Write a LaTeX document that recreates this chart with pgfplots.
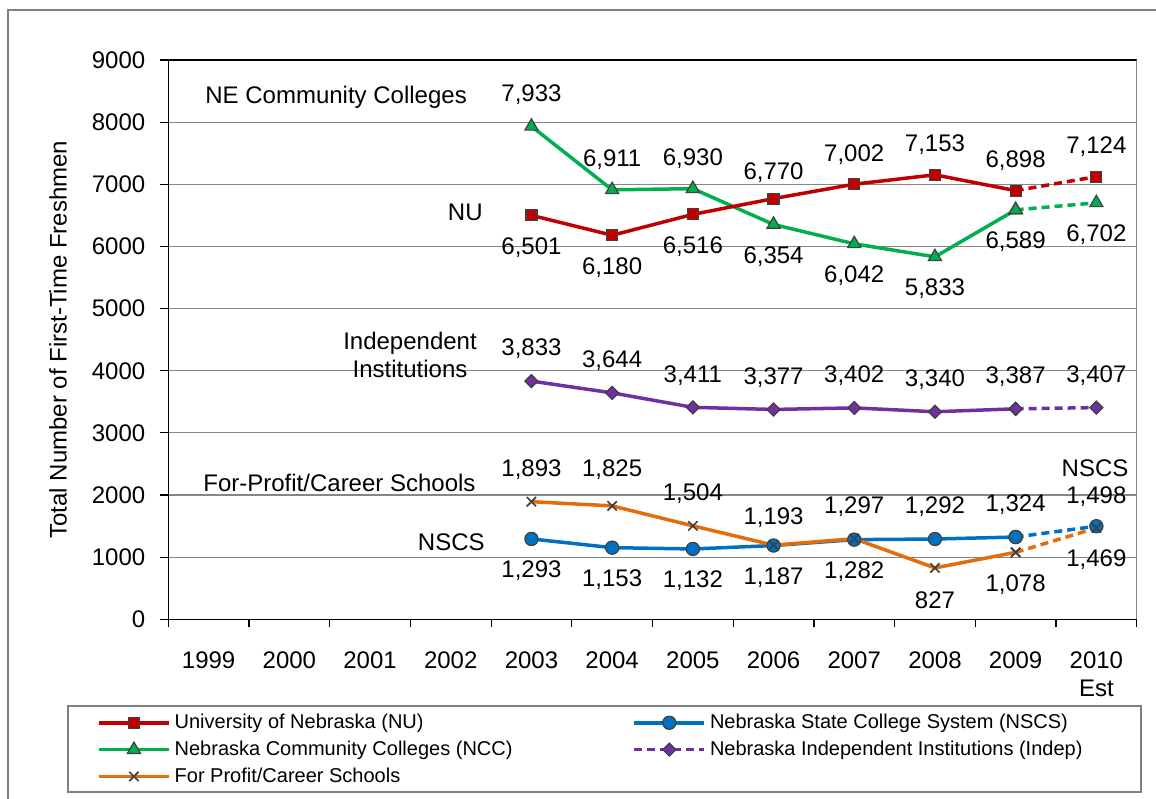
\documentclass[border=0pt]{standalone}
\usepackage{fontspec}
\setmainfont{Liberation Sans}
\usepackage{pgfplots}
\usepackage{pgfplotstable}
\pgfplotsset{compat=1.18}

\definecolor{nured}{RGB}{192,0,0}
\definecolor{nccgreen}{RGB}{0,176,80}
\definecolor{fporange}{RGB}{228,108,10}
\definecolor{nscsblue}{RGB}{0,112,192}
\definecolor{indpurple}{RGB}{112,48,160}
\definecolor{markedge}{RGB}{64,64,64}
\definecolor{gridgray}{RGB}{134,134,134}
\definecolor{framegray}{RGB}{128,128,128}

% x: 0 = 1999 ... 11 = 2010 (Est); dy = label offset in bp
\pgfplotstableread{
x y dy
4 6501 -16
5 6180 -16
6 6516 -16
7 6770 13
8 7002 15
9 7153 15
10 6898 15
11 7124 15
}\nu
\pgfplotstableread{
x y dy
4 7933 16
5 6911 15
6 6930 15
7 6354 -16
8 6042 -16
9 5833 -16
10 6589 -16
11 6702 -16
}\ncc
\pgfplotstableread{
x y dy
4 3833 16
5 3644 16
6 3411 16
7 3377 16
8 3402 16
9 3340 16
10 3387 16
11 3407 16
}\indep
\pgfplotstableread{
x y dy
4 1293 -16
5 1153 -16
6 1132 -16
7 1187 -16
8 1282 -16
9 1292 16
10 1324 16
11 1498 15
}\nscs
\pgfplotstableread{
x y dy
4 1893 16
5 1825 18
6 1504 16
7 1193 14
8 1297 16
9 827 -16
10 1078 -16
11 1469 -16
}\fp

\newcommand{\chartfont}{\fontsize{12bp}{14bp}\selectfont}
\newcommand{\legfont}{\fontsize{10bp}{12bp}\selectfont}

\pgfplotsset{
  nu/.style={nured, line width=1.75bp, mark=square*, mark size=2.75bp,
    mark options={solid, fill=nured, draw=markedge, line width=0.6bp}},
  ncc/.style={nccgreen, line width=1.75bp, mark=triangle*, mark size=3.8bp,
    mark options={solid, fill=nccgreen, draw=markedge, line width=0.6bp}},
  indep/.style={indpurple, line width=1.75bp, mark=square*, mark size=2.3bp,
    mark options={solid, rotate=45, fill=indpurple, draw=markedge, line width=0.6bp}},
  nscs/.style={nscsblue, line width=1.75bp, mark=*, mark size=3.3bp,
    mark options={solid, fill=nscsblue, draw=markedge, line width=0.6bp}},
  fp/.style={fporange, line width=1.75bp, mark=x, mark size=3.3bp,
    mark options={solid, draw=markedge, line width=0.85bp}},
  est/.style={dash pattern=on 4bp off 2.5bp},
  lbl/.style={draw=none, mark=none, forget plot, point meta=y,
    visualization depends on={\thisrow{dy}\as\dy},
    nodes near coords={\pgfmathprintnumber[assume math mode=true,1000 sep={,}]{\pgfplotspointmeta}},
    nodes near coords style={anchor=center, yshift=\dy*1bp, font=\chartfont, text=black, inner sep=0pt}},
}

\begin{document}
\begin{tikzpicture}
\path[use as bounding box] (0,0) rectangle (578bp,-399.5bp);
\draw[framegray, line width=0.75bp] (4bp,-399.5bp) -- (4bp,-5bp) -- (578bp,-5bp);
\draw[framegray, line width=0.75bp] (34bp,-353bp) rectangle (570.5bp,-396bp);

\begin{axis}[
  at={(84.15bp,-309.65bp)}, anchor=south west,
  scale only axis, width=484.2bp, height=279.65bp,
  xmin=-0.5, xmax=11.5, ymin=0, ymax=9000,
  ytick={0,1000,...,9000},
  xtick={0,...,11},
  xticklabels={1999,2000,2001,2002,2003,2004,2005,2006,2007,2008,2009,{2010\\Est}},
  xticklabel style={align=center, font=\chartfont, yshift=-8.5bp},
  yticklabel style={font=\chartfont, xshift=-4bp, /pgf/number format/1000 sep={}},
  /pgf/number format/assume math mode=true,
  minor xtick={-0.5,0.5,...,11.5},
  tick align=outside, tick pos=left,
  major tick length=4bp, minor tick length=4bp,
  major x tick style={draw=none},
  tick style={black, line width=0.6bp},
  axis line style={black, line width=0.6bp},
  ymajorgrids, major grid style={gridgray, line width=0.6bp},
  ylabel={Total Number of First-Time Freshmen},
  ylabel style={at={(axis description cs:-0.1139,0.5)}, anchor=center, font=\chartfont},
  clip=false,
  legend columns=2, legend cell align=left,
  legend image code/.code={\draw[mark repeat=2,mark phase=2] plot coordinates {(0bp,0bp) (17.5bp,0bp) (35bp,0bp)};},
  legend style={draw=none, fill=none, at={(-0.08,-0.1544)}, anchor=north west,
    font=\legfont, row sep=0.7bp,
    /tikz/every even column/.append style={column sep=58bp}},
]
% dashed estimate segments 2009-2010
\addplot[nu, est, restrict x to domain=10:11, forget plot] table[x=x,y=y] {\nu};
\addplot[ncc, est, restrict x to domain=10:11, forget plot] table[x=x,y=y] {\ncc};
\addplot[indep, est, restrict x to domain=10:11, forget plot] table[x=x,y=y] {\indep};
\addplot[nscs, est, restrict x to domain=10:11, forget plot] table[x=x,y=y] {\nscs};
\addplot[fp, est, restrict x to domain=10:11, forget plot] table[x=x,y=y] {\fp};
% actual 2003-2009
\addplot[indep, restrict x to domain=4:10, forget plot] table[x=x,y=y] {\indep};
\addplot[nscs, restrict x to domain=4:10, forget plot] table[x=x,y=y] {\nscs};
\addplot[fp, restrict x to domain=4:10, forget plot] table[x=x,y=y] {\fp};
\addplot[ncc, restrict x to domain=4:10, forget plot] table[x=x,y=y] {\ncc};
\addplot[nu, restrict x to domain=4:10, forget plot] table[x=x,y=y] {\nu};
% value labels
\addplot[lbl] table[x=x,y=y] {\nu};
\addplot[lbl] table[x=x,y=y] {\ncc};
\addplot[lbl] table[x=x,y=y] {\indep};
\addplot[lbl] table[x=x,y=y] {\nscs};
\addplot[lbl] table[x=x,y=y] {\fp};
% legend
\addlegendimage{nu}\addlegendentry{University of Nebraska (NU)}
\addlegendimage{nscs}\addlegendentry{Nebraska State College System (NSCS)}
\addlegendimage{ncc}\addlegendentry{Nebraska Community Colleges (NCC)}
\addlegendimage{indep, est}\addlegendentry{Nebraska Independent Institutions (Indep)}
\addlegendimage{fp}\addlegendentry{For Profit/Career Schools}
\draw[gridgray, line width=0.6bp] (rel axis cs:1,0) -- (rel axis cs:1,1);
\end{axis}

% series names
\node[font=\chartfont, anchor=west, inner sep=0pt] at (102.5bp,-48.5bp) {NE Community Colleges};
\node[font=\chartfont, anchor=east, inner sep=0pt] at (241.5bp,-106bp) {NU};
\node[font=\chartfont, align=center, inner sep=0pt] at (205bp,-177.5bp) {Independent\\Institutions};
\node[font=\chartfont, anchor=west, inner sep=0pt] at (101.5bp,-241.5bp) {For-Profit/Career Schools};
\node[font=\chartfont, anchor=east, inner sep=0pt] at (242.5bp,-271bp) {NSCS};
\node[font=\chartfont, inner sep=0pt] at (547.5bp,-234bp) {NSCS};
\end{tikzpicture}
\end{document}
